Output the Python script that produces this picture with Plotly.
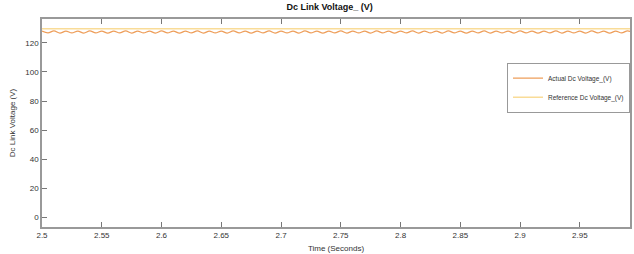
import plotly.graph_objects as go

# Time samples (s) at ripple peaks / troughs
time_s = [2.500, 2.505, 2.510, 2.515, 2.520, 2.525, 2.530, 2.535, 2.540, 2.545,
          2.550, 2.555, 2.560, 2.565, 2.570, 2.575, 2.580, 2.585, 2.590, 2.595,
          2.600, 2.605, 2.610, 2.615, 2.620, 2.625, 2.630, 2.635, 2.640, 2.645,
          2.650, 2.655, 2.660, 2.665, 2.670, 2.675, 2.680, 2.685, 2.690, 2.695,
          2.700, 2.705, 2.710, 2.715, 2.720, 2.725, 2.730, 2.735, 2.740, 2.745,
          2.750, 2.755, 2.760, 2.765, 2.770, 2.775, 2.780, 2.785, 2.790, 2.795,
          2.800, 2.805, 2.810, 2.815, 2.820, 2.825, 2.830, 2.835, 2.840, 2.845,
          2.850, 2.855, 2.860, 2.865, 2.870, 2.875, 2.880, 2.885, 2.890, 2.895,
          2.900, 2.905, 2.910, 2.915, 2.920, 2.925, 2.930, 2.935, 2.940, 2.945,
          2.950, 2.955, 2.960, 2.965, 2.970, 2.975, 2.980, 2.985, 2.990, 2.995]

actual_dc_v = [128.2, 126.9, 128.3, 126.8, 128.2, 126.9, 128.2, 126.8, 128.3, 126.9,
               128.2, 126.8, 128.2, 126.9, 128.3, 126.8, 128.2, 126.9, 128.2, 126.8,
               128.3, 126.9, 128.2, 126.8, 128.2, 126.9, 128.3, 126.8, 128.2, 126.9,
               128.2, 126.8, 128.3, 126.9, 128.2, 126.8, 128.2, 126.9, 128.3, 126.8,
               128.2, 126.9, 128.2, 126.8, 128.3, 126.9, 128.2, 126.8, 128.2, 126.9,
               128.3, 126.8, 128.2, 126.9, 128.2, 126.8, 128.3, 126.9, 128.2, 126.8,
               128.2, 126.9, 128.3, 126.8, 128.2, 126.9, 128.2, 126.8, 128.3, 126.9,
               128.2, 126.8, 128.2, 126.9, 128.3, 126.8, 128.2, 126.9, 128.2, 126.8,
               128.3, 126.9, 128.2, 126.8, 128.2, 126.9, 128.3, 126.8, 128.2, 126.9,
               128.2, 126.8, 128.3, 126.9, 128.2, 126.8, 128.2, 126.9, 128.3, 126.8]

ref_time_s = [2.5, 3.0]
reference_dc_v = [129.8, 129.8]

x_ticks = [2.5, 2.55, 2.6, 2.65, 2.7, 2.75, 2.8, 2.85, 2.9, 2.95]
x_tick_labels = ["2.5", "2.55", "2.6", "2.65", "2.7", "2.75", "2.8", "2.85", "2.9", "2.95"]
y_ticks = [0, 20, 40, 60, 80, 100, 120]

fig = go.Figure()
fig.add_trace(go.Scatter(x=time_s, y=actual_dc_v, mode="lines",
                         name="Actual Dc Voltage_(V)",
                         line=dict(color="#EE9E5A", width=1.3, shape="spline", smoothing=1.0)))
fig.add_trace(go.Scatter(x=ref_time_s, y=reference_dc_v, mode="lines",
                         name="Reference Dc Voltage_(V)",
                         line=dict(color="#F9DC97", width=1.5)))

font_family = "Liberation Sans, Arial, sans-serif"
fig.update_layout(
    width=634, height=254,
    margin=dict(l=42, r=2, t=19, b=27),
    paper_bgcolor="white", plot_bgcolor="white",
    font=dict(family=font_family, size=8, color="#333333"),
    title=dict(text="<b>Dc Link Voltage_ (V)</b>", x=0.52, xanchor="center",
               y=0.972, yanchor="middle", font=dict(size=9, color="#111111")),
    showlegend=True,
    legend=dict(x=1.0, y=0.79, xanchor="right", yanchor="top",
                bgcolor="white", bordercolor="#999999", borderwidth=1,
                font=dict(size=6.5, color="#333333"),
                tracegroupgap=0, itemwidth=30),
)
fig.update_xaxes(range=[2.5, 2.992], tickvals=x_ticks, ticktext=x_tick_labels,
                 ticks="inside", ticklen=5, tickcolor="#777777",
                 showline=True, linecolor="#999999", linewidth=1.5, mirror="ticks",
                 showgrid=False, zeroline=False,
                 title=dict(text="Time (Seconds)", standoff=6, font=dict(size=8)))
fig.update_yaxes(range=[-6.8, 136.5], tickvals=y_ticks,
                 ticks="inside", ticklen=5, tickcolor="#777777",
                 showline=True, linecolor="#999999", linewidth=1.5, mirror=True,
                 showgrid=False, zeroline=False,
                 title=dict(text="Dc Link Voltage (V)", standoff=8, font=dict(size=8)))

fig.write_html("out.html",
               config={"displayModeBar": False},
               post_script="document.body.style.margin='0';document.body.style.overflow='hidden';")
